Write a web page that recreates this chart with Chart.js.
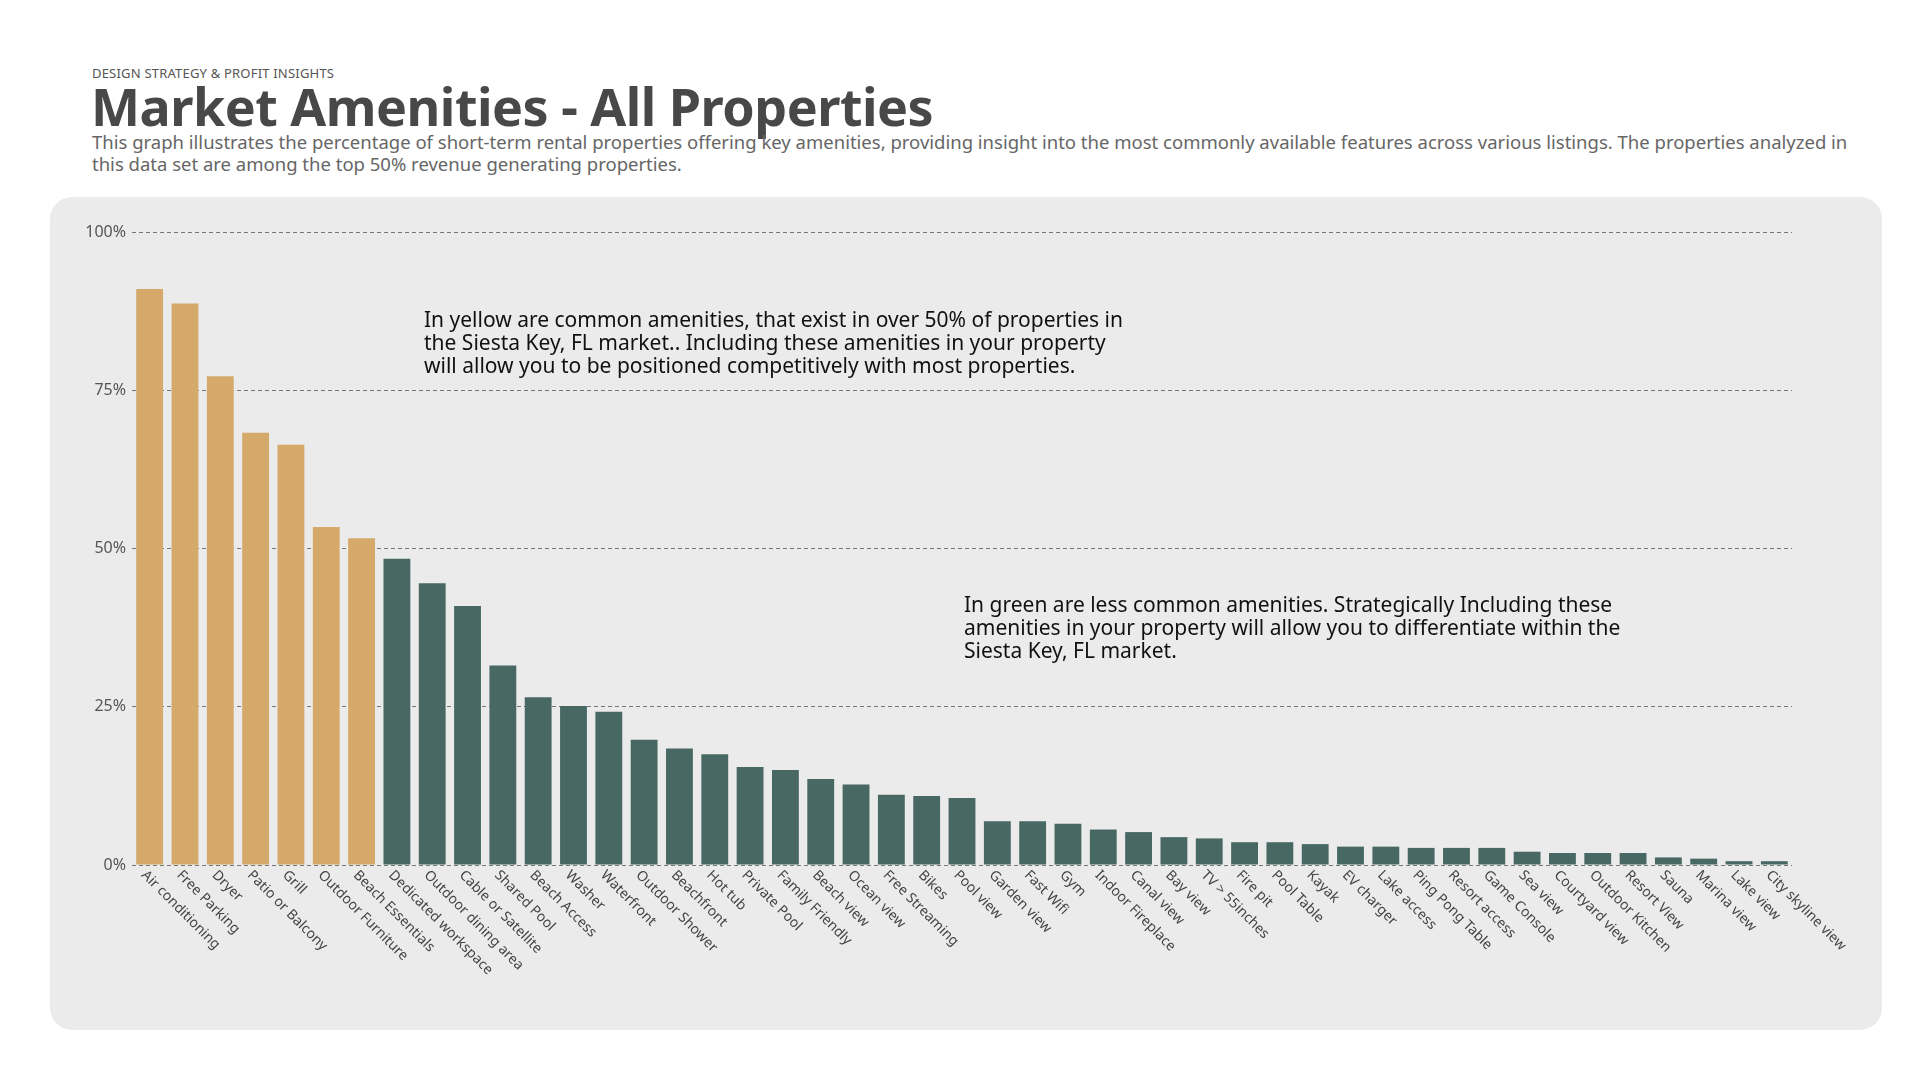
<!DOCTYPE html>
<html>
<head>
<meta charset="utf-8">
<script src="https://cdn.jsdelivr.net/npm/chart.js@4/dist/chart.umd.min.js"></script>
<style>
  html, body { margin: 0; padding: 0; background: #fff; }
  body { width: 1922px; height: 1079px; position: relative; font-family: "Noto Sans", sans-serif; overflow: hidden; }
  .kicker { position: absolute; left: 92px; top: 64px; font-size: 13px; color: #555; letter-spacing: 0.2px; }
  h1 { position: absolute; left: 91px; top: 70px; margin: 0; font-size: 52px; font-weight: 700; color: #484848; letter-spacing: -0.5px; }
  .sub { position: absolute; left: 92px; top: 131px; width: 1780px; font-size: 18.5px; line-height: 22px; color: #666; }
  .panel { position: absolute; left: 50px; top: 197px; width: 1832px; height: 833px; background: #ebebeb; border-radius: 22px; }
  canvas { position: absolute; left: 0; top: 0; }
  .note { position: absolute; font-size: 21px; line-height: 23px; color: #111; }
</style>
</head>
<body>
<div class="kicker">DESIGN STRATEGY &amp; PROFIT INSIGHTS</div>
<h1>Market Amenities - All Properties</h1>
<div class="sub">This graph illustrates the percentage of short-term rental properties offering key amenities, providing insight into the most commonly available features across various listings. The properties analyzed in this data set are among the top 50% revenue generating properties.</div>
<div class="panel"><canvas id="chart" width="1832" height="833"></canvas></div>
<div class="note" style="left:424px; top:308px;">In yellow are common amenities, that exist in over 50% of properties in<br>the Siesta Key, FL market.. Including these amenities in your property<br>will allow you to be positioned competitively with most properties.</div>
<div class="note" style="left:964px; top:593px;">In green are less common amenities. Strategically Including these<br>amenities in your property will allow you to differentiate within the<br>Siesta Key, FL market.</div>
<script>
const amenities = ['Air conditioning','Free Parking','Dryer','Patio or Balcony','Grill','Outdoor Furniture','Beach Essentials','Dedicated workspace','Outdoor dining area','Cable or Satellite','Shared Pool','Beach Access','Washer','Waterfront','Outdoor Shower','Beachfront','Hot tub','Private Pool','Family Friendly','Beach view','Ocean view','Free Streaming','Bikes','Pool view','Garden view','Fast Wifi','Gym','Indoor Fireplace','Canal view','Bay view','TV > 55inches','Fire pit','Pool Table','Kayak','EV charger','Lake access','Ping Pong Table','Resort access','Game Console','Sea view','Courtyard view','Outdoor Kitchen','Resort View','Sauna','Marina view','Lake view','City skyline view'];
const share = [91.0,88.7,77.2,68.3,66.4,53.4,51.6,48.4,44.5,40.9,31.5,26.5,25.1,24.2,19.8,18.4,17.5,15.5,15.0,13.6,12.7,11.1,10.9,10.6,6.9,6.9,6.5,5.6,5.2,4.4,4.2,3.6,3.6,3.3,2.9,2.9,2.7,2.7,2.7,2.1,1.9,1.9,1.9,1.2,1.0,0.6,0.6];
const yTicks = [0,25,50,75,100];

const COMMON = '#d4a96a';
const RARE = '#476863';

// draws x labels starting at the tick, slanting down-right
const slantLabels = {
  id: 'slantLabels',
  afterDraw(chart) {
    const ctx = chart.ctx;
    const x = chart.scales.x;
    const top = chart.chartArea.bottom + 8;
    ctx.save();
    ctx.font = '14px "Noto Sans", sans-serif';
    ctx.fillStyle = '#444';
    ctx.textAlign = 'left';
    ctx.textBaseline = 'middle';
    amenities.forEach((name, i) => {
      ctx.save();
      ctx.translate(x.getPixelForValue(i) - 6, top);
      ctx.rotate(Math.PI / 4);
      ctx.fillText(name, 0, 0);
      ctx.restore();
    });
    ctx.restore();
  }
};

new Chart(document.getElementById('chart'), {
  type: 'bar',
  data: {
    labels: amenities,
    datasets: [{
      data: share,
      backgroundColor: share.map(v => v > 50 ? COMMON : RARE),
      barPercentage: 0.76,
      categoryPercentage: 1
    }]
  },
  options: {
    responsive: false,
    animation: false,
    layout: { padding: { top: 35, right: 90, bottom: 157, left: 0 } },
    plugins: { legend: { display: false }, tooltip: { enabled: false } },
    scales: {
      x: {
        grid: { display: false },
        border: { display: false },
        ticks: { display: false }
      },
      y: {
        min: 0, max: 100,
        afterFit(s) { s.width = 82; },
        afterBuildTicks(s) { s.ticks = yTicks.map(v => ({ value: v })); },
        border: { display: false, dash: [4, 3] },
        grid: { color: '#777', lineWidth: 1, drawTicks: false },
        ticks: { color: '#555', font: { size: 16, family: '"Noto Sans", sans-serif' }, padding: 6, callback: v => v + '%' }
      }
    }
  },
  plugins: [slantLabels]
});
</script>
</body>
</html>
